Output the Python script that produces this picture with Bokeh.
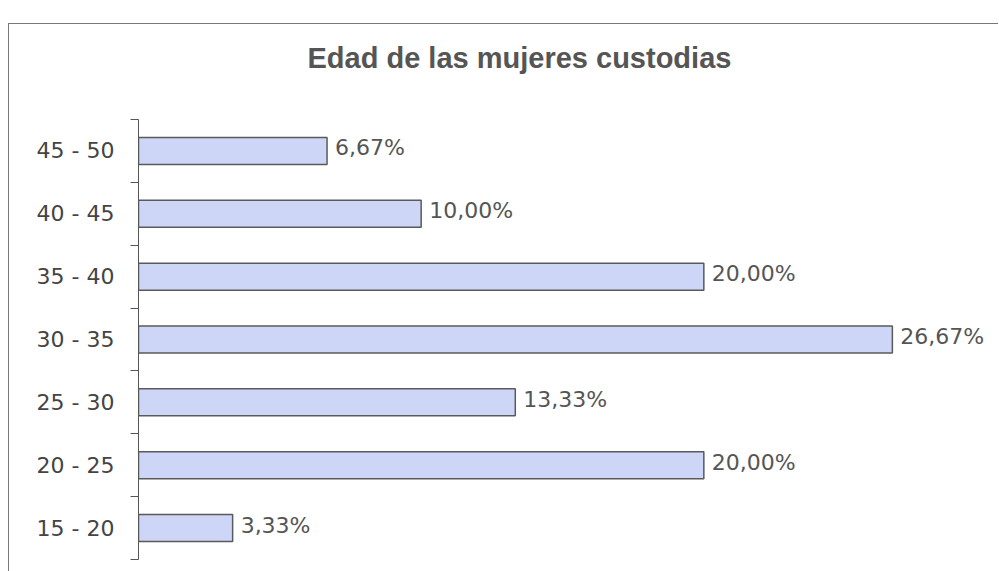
from bokeh.plotting import figure
from bokeh.models import ColumnDataSource, FixedTicker, Range1d, Spacer, Title
from bokeh.layouts import column, row
from bokeh.embed import file_html
from bokeh.resources import INLINE
from bokeh.core.properties import value

# Data (bottom to top)
categories = ["15 - 20", "20 - 25", "25 - 30", "30 - 35", "35 - 40", "40 - 45", "45 - 50"]
percentages = [3.33, 20.00, 13.33, 26.67, 20.00, 10.00, 6.67]
value_labels = ["3,33%", "20,00%", "13,33%", "26,67%", "20,00%", "10,00%", "6,67%"]
title_text = "Edad de las mujeres custodias"

positions = [i + 0.5 for i in range(len(categories))]
boundaries = list(range(len(categories) + 1))

src = ColumnDataSource(dict(y=positions, v=percentages, lab=value_labels))

p = figure(width=990, height=548, output_backend="svg", toolbar_location=None,
           x_range=Range1d(0, 30), y_range=Range1d(0, len(categories)),
           min_border_left=129, min_border_right=13, min_border_top=95, min_border_bottom=13)
p.title = None

# empty title used as a gap between the chart title and the plot frame
gap = Title(text=" ", text_font_size="35px", standoff=0)
p.add_layout(gap, "above")

main_title = Title(text=title_text, text_font="Liberation Sans", text_font_size="29px",
                   text_font_style="bold", text_color="#555555", align="left",
                   offset=169, standoff=10)
p.add_layout(main_title, "above")

p.hbar(y="y", left=0, right="v", height=0.43, source=src,
       fill_color="#cdd6f6", line_color="#5a5a5a", line_width=1.5)

p.text(x="v", y="y", text="lab", source=src, x_offset=8, y_offset=-3,
       text_font=value("DejaVu Sans"), text_font_size="22px",
       text_color="#555555", text_align="left", text_baseline="middle")

p.xaxis.visible = False
p.xgrid.visible = False
p.ygrid.visible = False
p.outline_line_color = None

ya = p.yaxis[0]
ya.ticker = FixedTicker(ticks=positions, minor_ticks=boundaries)
ya.major_label_overrides = {pos: c for pos, c in zip(positions, categories)}
ya.major_tick_out = 0
ya.major_tick_in = 0
ya.minor_tick_out = 8
ya.minor_tick_in = 0
ya.minor_tick_line_color = "#555555"
ya.axis_line_color = "#555555"
ya.major_label_standoff = 16
ya.major_label_text_font = "DejaVu Sans"
ya.major_label_text_font_size = "22px"
ya.major_label_text_color = "#444444"

p.styles = {"border-top": "1px solid #777777", "border-left": "1px solid #777777"}

layout = column(Spacer(height=23, width=998), row(Spacer(width=8, height=548), p))
open("out.html", "w").write(file_html(layout, INLINE))
